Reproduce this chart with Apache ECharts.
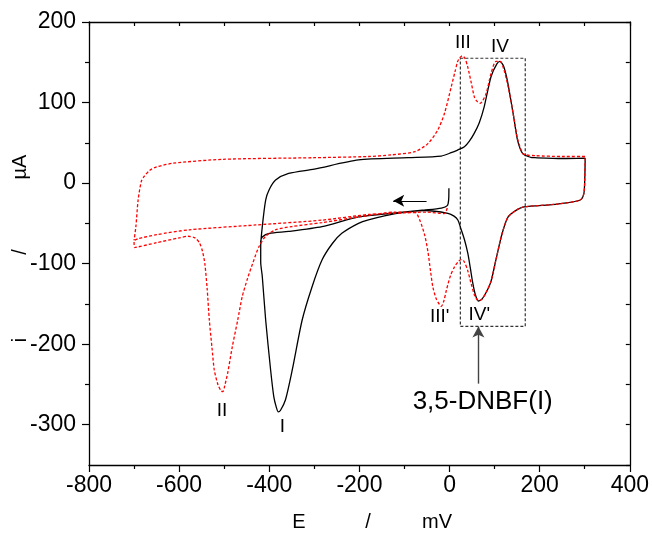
<!DOCTYPE html>
<html><head><meta charset="utf-8">
<script src="https://cdn.jsdelivr.net/npm/echarts@6/dist/echarts.min.js"></script>
<style>html,body{margin:0;padding:0;background:#fff}#c{width:652px;height:534px}</style>
</head><body><div id="c"></div>
<script>
// ---- data (E in mV, i in µA) ----
const yTickValues = [-300, -200, -100, 0, 100, 200];
const yMinorValues = [-250, -150, -50, 50, 150];

const blackCurve = [
  [-1.4,-6.5],[-2,-21],[-5,-28],[-18,-31],[-55,-33.4],[-120,-37],[-202,-42],[-283,-54],[-357,-60],
  [-400,-62.4],[-415,-66.5],[-419,-72],[-419,-98],[-415.5,-116],[-408,-170],[-397,-232],[-390,-265],
  [-384,-279],[-380,-284],[-375,-282],[-364,-269],[-349,-232],[-327,-170],[-305,-128.6],[-283,-95.5],
  [-260,-75],[-239,-62.4],[-202,-50],[-180,-45.8],[-120,-38],[-55,-34],[-3.6,-37.5],[10,-41],[18.4,-45.8],
  [26,-58],[33,-70],[40.5,-87],[46,-105],[51.5,-124],[57,-138],[64,-146.4],[72,-144],[82,-135],[92,-122],
  [103,-95],[117,-62],[130,-42],[150,-33],[165,-29.5],[240,-26],[290,-21],[298,-13],[300,4],[301,31],
  [250,30.5],[190,31.5],[180,32],[162,37],[151,53],[143,80],[136,103],[128,128],[120,145],[112,151],
  [105,148],[92,132],[77,95],[66,75],[55,62],[44,52],[33,45],[18,41],[3.6,37.7],[-18.4,33.6],[-92,31.5],
  [-202,28.7],[-300,17.4],[-357,12],[-386,3.8],[-400,-8],[-408,-21],[-415.5,-54],[-419,-79],[-419,-95]
];

const redCurve = [
  [-5,-31],[-12,-38],[-50,-36],[-100,-37],[-180,-39],[-283,-46],[-430,-52],[-577,-58],[-650,-64],
  [-690,-69],[-700,-72],[-699,-80],[-650,-74],[-600,-68],[-580,-66],[-565,-68],[-555,-74],[-548,-85],
  [-543,-100],[-538,-130],[-533,-170],[-527,-205],[-522,-232],[-514,-250],[-507,-258],[-503,-259],
  [-499,-252],[-492,-235],[-482,-203],[-470,-170],[-460,-141],[-448,-118],[-437,-100],[-423,-79],
  [-408,-66],[-386,-58],[-350,-54],[-283,-49],[-200,-42],[-120,-36],[-77,-36],[-66,-46],[-55,-65],
  [-48,-85],[-42,-110],[-37,-129],[-30,-143],[-22,-151],[-18,-153],[-12,-145],[-7,-133],[2,-115],
  [11,-104],[20,-97],[26,-95],[32,-97],[40,-108],[48,-125],[56,-140],[64,-146],[72,-144],[82,-135],
  [92,-122],[103,-95],[117,-62],[130,-42],[150,-33],[165,-29.5],[240,-26],[290,-21],[298,-13],[300,4],
  [301,33],[250,33],[190,34],[170,35],[162,37],[151,55],[143,80],[136,103],[128,125],[120,142],[112,151],
  [103,151],[92,136],[81,111],[68,99],[60,102],[55,107],[48,125],[40,145],[34,155],[28,158],[22,155],
  [18,151],[12,138],[4,120],[-11,87],[-26,66],[-48,49],[-77,39],[-129,35],[-180,33],[-300,31.5],
  [-504,29.5],[-614,24.6],[-650,20],[-665,16],[-678,8],[-684,2],[-691,-21],[-696,-54],[-700,-71]
];

const boxCorners = [[24,155],[168,155],[168,-178],[24,-178],[24,155]];
const scanArrow = [[-51,-22],[-125,-22]];
const compoundArrow = [[64,-249],[64,-178]];

const peakLabels = ['III', 'IV', "III'", "IV'", 'II', 'I'];
const peakLabelPos = [[29.5,174],[112,169],[-22,-166],[66,-164],[-505,-283],[-371,-302]];
const compoundName = '3,5-DNBF(I)';
const compoundPos = [[73.6,-271]];

// ---- chart ----
const chart = echarts.init(document.getElementById('c'), null, {renderer:'canvas'});
const FONT = 'Liberation Sans, Arial, sans-serif';
const axisLine = {show:true, onZero:false, lineStyle:{color:'#000', width:1.3}};

chart.setOption({
  animation:false,
  backgroundColor:'#fff',
  grid:{left:89, right:19, top:22, bottom:69, containLabel:false},
  xAxis:[
    {type:'value', min:-800, max:400, interval:200, position:'bottom',
     axisLine:axisLine,
     axisTick:{length:7, lineStyle:{color:'#000', width:1.2}},
     minorTick:{show:true, splitNumber:2, length:4, lineStyle:{color:'#000', width:1.2}},
     axisLabel:{fontSize:23, color:'#000', margin:9, fontFamily:FONT},
     splitLine:{show:false}, minorSplitLine:{show:false}},
    {type:'value', min:-800, max:400, interval:100, position:'top',
     axisLine:axisLine,
     axisTick:{inside:true, length:4, lineStyle:{color:'#000', width:1.2}},
     axisLabel:{show:false}, splitLine:{show:false}}
  ],
  yAxis:[
    {type:'value', min:-350, max:200, position:'left',
     axisLine:axisLine,
     axisTick:{show:true, customValues:yTickValues, length:7, lineStyle:{color:'#000', width:1.2}},
     axisLabel:{customValues:yTickValues, fontSize:23, color:'#000', margin:13, fontFamily:FONT},
     splitLine:{show:false}},
    {type:'value', min:-350, max:200, position:'left', offset:0,
     axisLine:{show:false, onZero:false},
     axisTick:{show:true, customValues:yMinorValues, length:4, lineStyle:{color:'#000', width:1.2}},
     axisLabel:{show:false}, splitLine:{show:false}},
    {type:'value', min:-350, max:200, interval:50, position:'right',
     axisLine:axisLine,
     axisTick:{inside:true, length:4, lineStyle:{color:'#000', width:1.2}},
     axisLabel:{show:false}, splitLine:{show:false}}
  ],
  graphic:[
    {type:'text', x:299, y:522, style:{text:'E', font:'20px '+FONT, fill:'#000', align:'center', verticalAlign:'middle'}},
    {type:'text', x:368, y:522, style:{text:'/', font:'20px '+FONT, fill:'#000', align:'center', verticalAlign:'middle'}},
    {type:'text', x:437, y:522, style:{text:'mV', font:'20px '+FONT, fill:'#000', align:'center', verticalAlign:'middle'}},
    {type:'text', x:20, y:167, rotation:Math.PI/2, style:{text:'µA', font:'20px '+FONT, fill:'#000', align:'center', verticalAlign:'middle'}},
    {type:'text', x:20, y:252, rotation:Math.PI/2, style:{text:'/', font:'20px '+FONT, fill:'#000', align:'center', verticalAlign:'middle'}},
    {type:'text', x:20, y:340, rotation:Math.PI/2, style:{text:'i', font:'20px '+FONT, fill:'#000', align:'center', verticalAlign:'middle'}}
  ],
  series:[
    {type:'line', name:'I', data:blackCurve, symbol:'none', smooth:0.25, smoothMonotone:'none',
     lineStyle:{color:'#000', width:1.3}, z:3},
    {type:'line', name:'box', data:boxCorners, symbol:'none',
     lineStyle:{color:'#333', width:1.2, type:[3,2]}, z:2,
     markLine:{silent:true, symbol:['none','arrow'], symbolSize:[9,11], label:{show:false},
       data:[
         [{coord:scanArrow[0], lineStyle:{color:'#000', width:1.2, type:'solid'}},{coord:scanArrow[1]}],
         [{coord:compoundArrow[0], lineStyle:{color:'#444', width:1.4, type:'solid'}},{coord:compoundArrow[1]}]
       ]}},
    {type:'line', name:'II', data:redCurve, symbol:'none', smooth:0.25, smoothMonotone:'none',
     lineStyle:{color:'#ff0000', width:1.3, type:[3,2]}, z:4},
    {type:'scatter', name:'labels', symbolSize:1, itemStyle:{color:'rgba(0,0,0,0)', opacity:1}, z:5,
     data:peakLabels.map((t,k)=>({value:peakLabelPos[k], name:t})),
     label:{show:true, position:'inside', formatter:'{b}', fontSize:19, color:'#000', opacity:1, textBorderWidth:0, fontFamily:FONT}},
    {type:'scatter', name:'compound', symbolSize:1, itemStyle:{color:'rgba(0,0,0,0)', opacity:1}, z:5,
     data:compoundPos.map(p=>({value:p, name:compoundName})),
     label:{show:true, position:'inside', formatter:'{b}', fontSize:26, color:'#000', opacity:1, textBorderWidth:0, fontFamily:FONT}}
  ]
});
</script></body></html>
